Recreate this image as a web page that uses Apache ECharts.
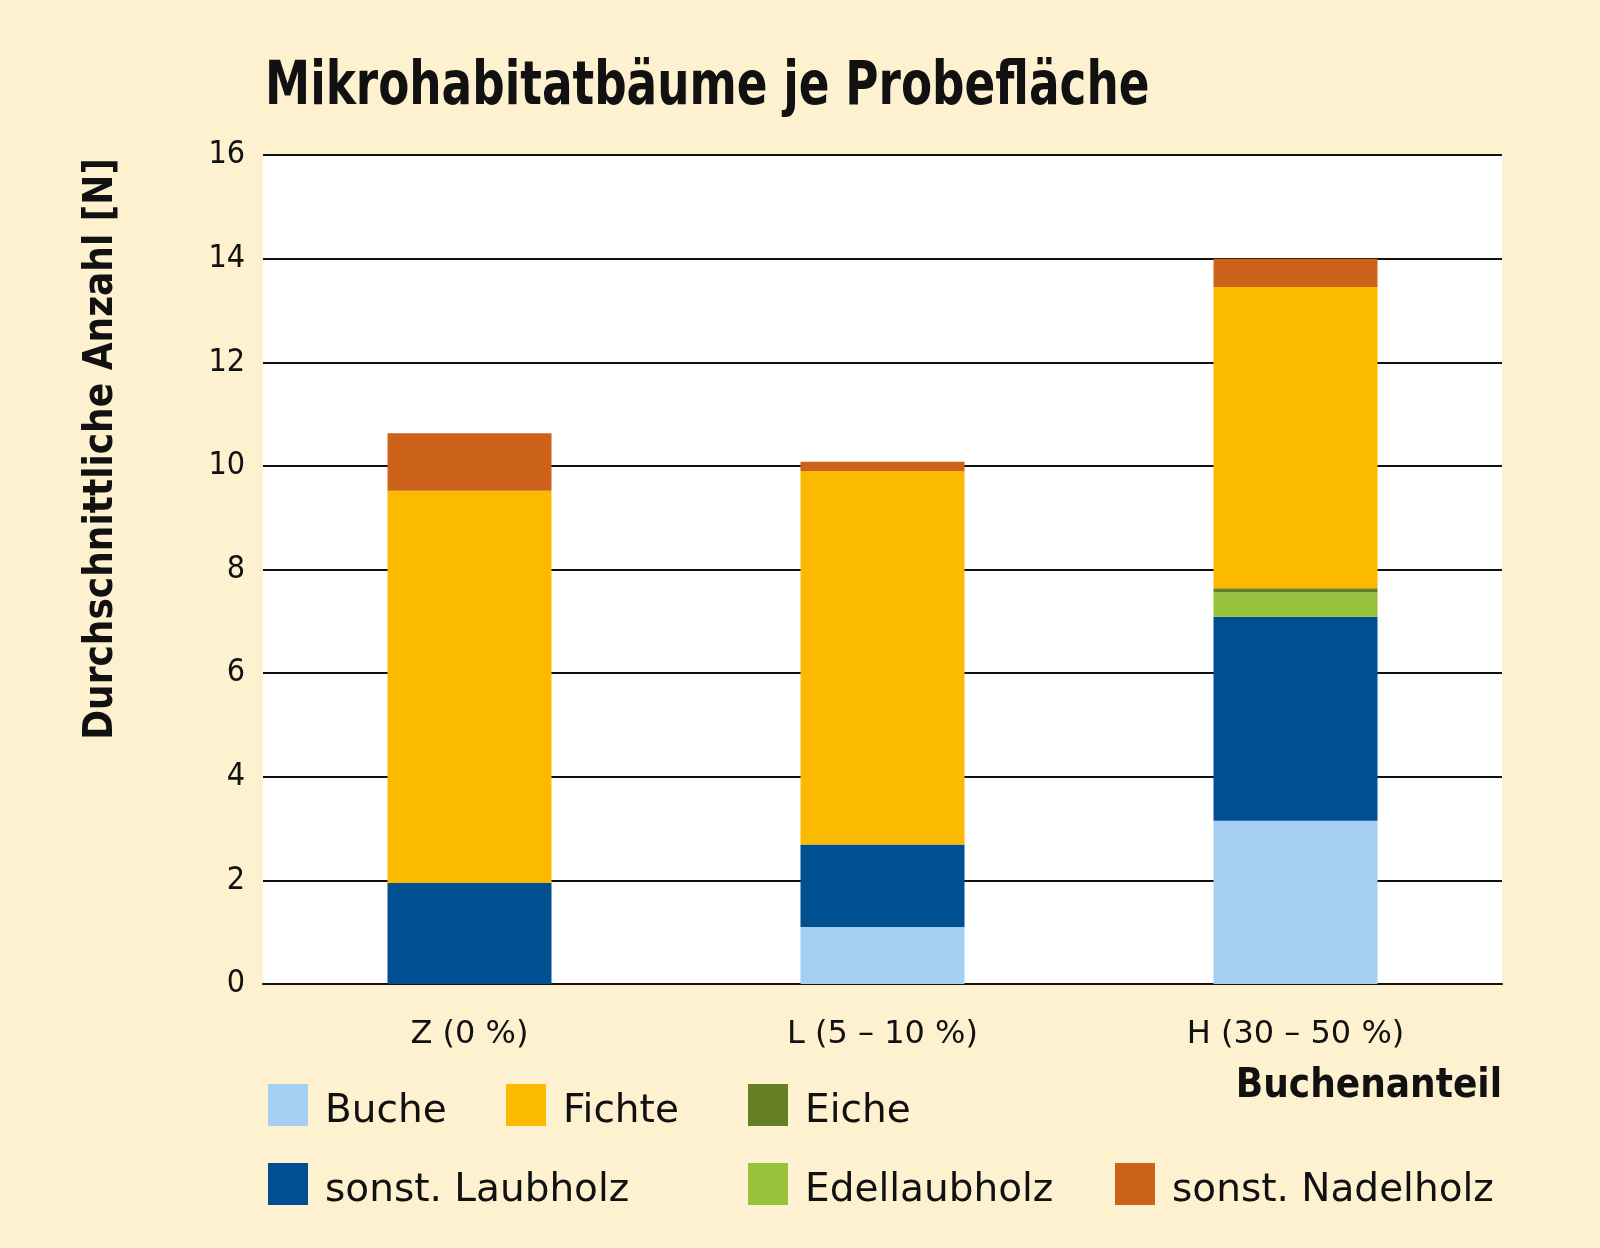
<!DOCTYPE html>
<html>
<head>
<meta charset="utf-8">
<script src="https://cdn.jsdelivr.net/npm/echarts@6/dist/echarts.min.js"></script>
<style>html,body{margin:0;padding:0;background:#fef1d0;}#c{width:1600px;height:1248px;}</style>
</head>
<body>
<div id="c"></div>
<script>
var categories = ['Z (0 %)', 'L (5 – 10 %)', 'H (30 – 50 %)'];
var buche = [0, 1.10, 3.15];
var laubholz = [1.95, 1.59, 3.94];
var edellaubholz = [0, 0, 0.47];
var eiche = [0, 0, 0.08];
var fichte = [7.57, 7.21, 5.81];
var nadelholz = [1.11, 0.18, 0.55];
var yTicks = [0, 2, 4, 6, 8, 10, 12, 14, 16];

var FONT = '"Liberation Sans Narrow", "DejaVu Sans Condensed", sans-serif';
var FONT2 = '"DejaVu Sans", sans-serif';
var colors = {
  'Buche': '#a4cff0',
  'sonst. Laubholz': '#004f91',
  'Edellaubholz': '#96c13a',
  'Eiche': '#667f24',
  'Fichte': '#fbb900',
  'sonst. Nadelholz': '#cd621a'
};
function s(name, data) {
  return { name: name, type: 'bar', stack: 'a', data: data, barWidth: 164,
    itemStyle: { color: colors[name] }, emphasis: { disabled: true } };
}
var legendPos = [
  ['Buche', 268, 1084], ['Fichte', 506, 1084], ['Eiche', 748, 1084],
  ['sonst. Laubholz', 268, 1163], ['Edellaubholz', 748, 1163], ['sonst. Nadelholz', 1115, 1163]
];
var legends = legendPos.map(function (p) {
  return { data: [p[0]], left: p[1], top: p[2], padding: 0, itemWidth: 40, itemHeight: 42,
    icon: 'rect', itemGap: 0, selectedMode: false,
    formatter: '{a|{name}}',
    textStyle: { fontFamily: FONT2, fontSize: 39, color: '#111', padding: [0, 0, 0, 12],
      rich: { a: { fontFamily: FONT2, fontSize: 39, color: '#111', padding: [14, 0, 0, 0] } } } };
});
var chart = echarts.init(document.getElementById('c'));
chart.setOption({
  backgroundColor: '#fef1d0',
  animation: false,
  legend: legends,
  grid: { left: 263, right: 98, top: 155, bottom: 264, show: true, backgroundColor: '#ffffff', borderWidth: 0 },
  xAxis: { type: 'category', data: categories,
    axisLine: { lineStyle: { color: '#111', width: 2 } }, axisTick: { show: false },
    axisLabel: { fontFamily: FONT2, fontSize: 32, color: '#111', margin: 35 } },
  yAxis: { type: 'value', min: 0, max: 16, interval: 2,
    axisLine: { show: false }, axisTick: { show: false },
    splitLine: { lineStyle: { color: '#111', width: 2 } },
    axisLabel: { fontFamily: FONT, fontSize: 32, color: '#111', margin: 18,
      formatter: function (v) { return yTicks.indexOf(v) >= 0 ? String(v) : ''; } } },
  graphic: [
    { type: 'text', x: 265, y: 118, scaleX: 0.84,
      style: { text: 'Mikrohabitatbäume je Probefläche', fontFamily: FONT, fontSize: 60, fontWeight: 'bold',
        fill: '#111', align: 'left', verticalAlign: 'bottom' } },
    { type: 'text', x: 102, y: 449, rotation: Math.PI / 2,
      style: { text: 'Durchschnittliche Anzahl [N]', fontFamily: FONT, fontSize: 40, fontWeight: 'bold',
        fill: '#111', align: 'center', verticalAlign: 'middle' } },
    { type: 'text', x: 1502, y: 1087,
      style: { text: 'Buchenanteil', fontFamily: FONT, fontSize: 40, fontWeight: 'bold',
        fill: '#111', align: 'right', verticalAlign: 'middle' } }
  ],
  series: [
    s('Buche', buche), s('sonst. Laubholz', laubholz), s('Edellaubholz', edellaubholz),
    s('Eiche', eiche), s('Fichte', fichte), s('sonst. Nadelholz', nadelholz)
  ]
});
</script>
</body>
</html>
